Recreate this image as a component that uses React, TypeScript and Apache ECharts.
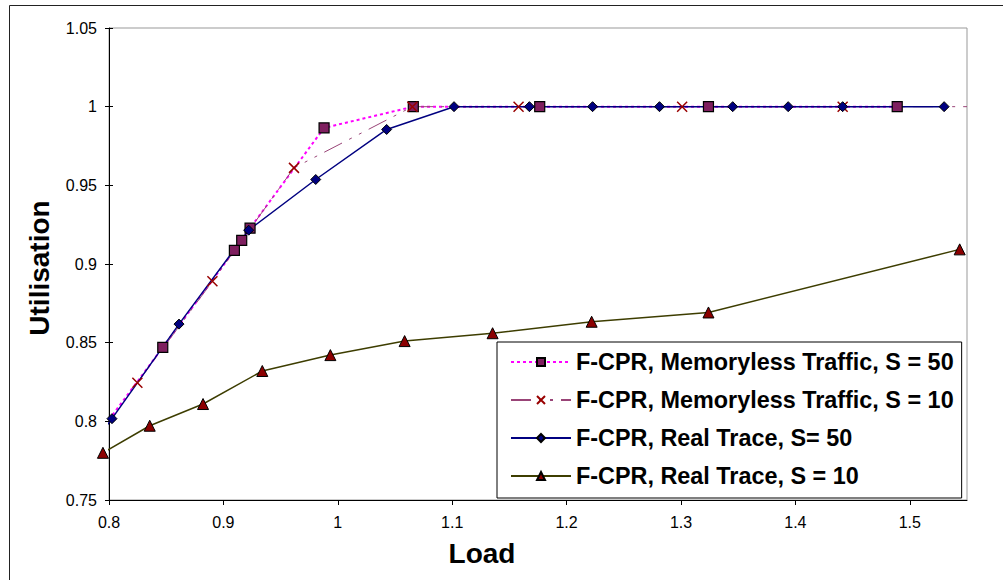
import React, { useEffect, useRef } from "react";
import * as echarts from "echarts";

const seriesNames = [
  "F-CPR, Memoryless Traffic, S = 50",
  "F-CPR, Memoryless Traffic, S = 10",
  "F-CPR, Real Trace, S= 50",
  "F-CPR, Real Trace, S = 10",
];

// [load, utilisation, markerVisible]
const memoryless50: [number, number, boolean][] = [
  [0.8, 0.801, false],
  [0.847, 0.847, true],
  [0.9096, 0.9086, true],
  [0.916, 0.915, true],
  [0.9233, 0.9228, true],
  [0.988, 0.9865, true],
  [1.066, 1.0, true],
  [1.1765, 1.0, true],
  [1.324, 1.0, true],
  [1.489, 1.0, true],
];

const memoryless10: [number, number, boolean][] = [
  [0.8248, 0.8245, true],
  [0.8904, 0.889, true],
  [0.9617, 0.9611, true],
  [1.0652, 1.0, true],
  [1.158, 1.0, true],
  [1.301, 1.0, true],
  [1.4413, 1.0, true],
  [1.55, 1.0, false],
];

const realTrace50: [number, number, boolean][] = [
  [0.7925, 0.7919, false],
  [0.8026, 0.8017, true],
  [0.8612, 0.8618, true],
  [0.9221, 0.9215, true],
  [0.9807, 0.9537, true],
  [1.0427, 0.9855, true],
  [1.1016, 1.0, true],
  [1.1675, 1.0, true],
  [1.2227, 1.0, true],
  [1.2812, 1.0, true],
  [1.3452, 1.0, true],
  [1.3937, 1.0, true],
  [1.4413, 1.0, true],
  [1.53, 1.0, true],
];

const realTrace10: [number, number, boolean][] = [
  [0.7947, 0.78, true],
  [0.8356, 0.7972, true],
  [0.8822, 0.811, true],
  [0.934, 0.832, true],
  [0.9935, 0.8421, true],
  [1.0584, 0.851, true],
  [1.1353, 0.856, true],
  [1.2219, 0.8633, true],
  [1.324, 0.8692, true],
  [1.5436, 0.9093, true],
];

const xMin = 0.8;
const xMax = 1.55;
const xStep = 0.1;
const yMin = 0.75;
const yMax = 1.05;
const yStep = 0.05;

const FONT = "'Liberation Sans', Arial, sans-serif";

function toData(arr: [number, number, boolean][]) {
  return arr.map(([x, y, vis]) =>
    vis ? { value: [x, y] } : { value: [x, y], symbol: "none" }
  );
}

export default function App() {
  const ref = useRef<HTMLDivElement>(null);
  useEffect(() => {
    if (!ref.current) return;
    const chart = echarts.init(ref.current, undefined, { renderer: "svg" });
    chart.setOption({
      animation: false,
      backgroundColor: "#fff",
      textStyle: { fontFamily: FONT },
      grid: {
        left: 109,
        top: 28,
        right: 36,
        bottom: 80,
        show: true,
        borderColor: "#999",
        borderWidth: 1,
        backgroundColor: "#fff",
      },
      legend: {
        orient: "vertical",
        left: 497,
        top: 342,
        padding: [8, 8, 10, 13],
        itemGap: 14,
        itemWidth: 60,
        itemHeight: 10,
        backgroundColor: "#fff",
        borderColor: "#000",
        borderWidth: 1,
        textStyle: {
          fontFamily: FONT,
          fontSize: 23.4,
          lineHeight: 24,
          fontWeight: "bold",
          color: "#000",
        },
        data: seriesNames,
      },
      xAxis: {
        type: "value",
        min: xMin,
        max: xMax,
        interval: xStep,
        axisLine: { show: true, lineStyle: { color: "#000", width: 1 } },
        axisTick: { show: true, inside: false, length: 5, lineStyle: { color: "#000" } },
        axisLabel: {
          showMaxLabel: false,
          margin: 14,
          fontSize: 16,
          color: "#000",
          fontFamily: FONT,
        },
        splitLine: { show: false },
      },
      yAxis: [
        {
          type: "value",
          min: yMin,
          max: yMax,
          interval: yStep,
          axisLine: { show: true, lineStyle: { color: "#000", width: 1 } },
          axisTick: { show: true, inside: false, length: 4, lineStyle: { color: "#000" } },
          axisLabel: { margin: 12, fontSize: 16, color: "#000", fontFamily: FONT },
          splitLine: { show: false },
        },
        {
          type: "value",
          position: "left",
          min: yMin,
          max: yMax,
          interval: yStep,
          axisLine: { show: false },
          axisTick: { show: true, inside: true, length: 4, lineStyle: { color: "#000" } },
          axisLabel: { show: false },
          splitLine: { show: false },
        },
      ],
      series: [
        {
          name: seriesNames[0],
          type: "line",
          clip: false,
          data: toData(memoryless50),
          symbol: "rect",
          symbolSize: 10,
          lineStyle: { color: "#ff00ff", width: 2, type: [3, 3] },
          itemStyle: { color: "#7f1f5f", borderColor: "#000", borderWidth: 1.2 },
        },
        {
          name: seriesNames[1],
          type: "line",
          clip: false,
          data: toData(memoryless10),
          symbol: "path://M0,0L10,10M10,0L0,10",
          symbolSize: 10,
          lineStyle: { color: "#994477", width: 1, type: [20, 8, 3, 8, 3, 8] },
          itemStyle: { color: "rgba(0,0,0,0)", borderColor: "#990000", borderWidth: 1.5 },
        },
        {
          name: seriesNames[2],
          type: "line",
          clip: false,
          data: toData(realTrace50),
          symbol: "diamond",
          symbolSize: 10,
          lineStyle: { color: "#000080", width: 1.5 },
          itemStyle: { color: "#000080", borderColor: "#000", borderWidth: 1 },
        },
        {
          name: seriesNames[3],
          type: "line",
          clip: false,
          data: toData(realTrace10),
          symbol: "triangle",
          symbolSize: 11,
          lineStyle: { color: "#3d3d00", width: 1.5 },
          itemStyle: { color: "#8b0000", borderColor: "#000", borderWidth: 1 },
        },
      ],
      graphic: [
        {
          type: "rect",
          shape: { x: 9.5, y: 5.5, width: 1010, height: 600 },
          style: { fill: "none", stroke: "#222", lineWidth: 1 },
          silent: true,
          z: -1,
        },
        {
          type: "text",
          x: 482,
          y: 553,
          style: {
            text: "Load",
            font: `bold 28px ${FONT}`,
            fill: "#000",
            align: "center",
            verticalAlign: "middle",
          },
        },
        {
          type: "text",
          x: 39,
          y: 268,
          rotation: Math.PI / 2,
          style: {
            text: "Utilisation",
            font: `bold 28px ${FONT}`,
            fill: "#000",
            align: "center",
            verticalAlign: "middle",
          },
        },
      ],
    });
    return () => chart.dispose();
  }, []);
  return (
    <div
      ref={ref}
      style={{ position: "absolute", left: 0, top: 0, width: 1003, height: 580 }}
    />
  );
}
